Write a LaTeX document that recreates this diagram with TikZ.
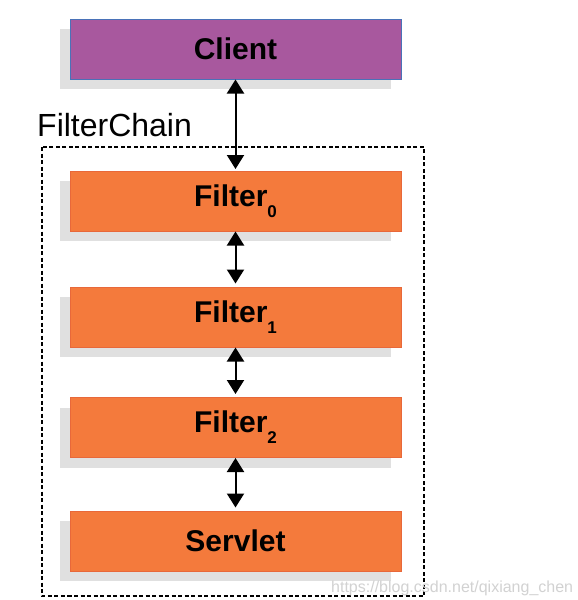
\documentclass[tikz,border=0pt]{standalone}
\usepackage{fontspec}
\setmainfont{Liberation Sans}
\usetikzlibrary{shadows,arrows.meta}
\definecolor{clientFill}{HTML}{A8589E}
\definecolor{clientLine}{HTML}{4A72B8}
\definecolor{filterFill}{HTML}{F47A3C}
\definecolor{filterLine}{HTML}{E8683A}
\definecolor{shadowGray}{HTML}{E0E0E0}
\definecolor{markGray}{HTML}{D2D2D2}
\newcommand{\fsub}[1]{\raisebox{-11pt}{\fontsize{17}{17}\selectfont\bfseries #1}}
\tikzset{
  lab/.style={font=\fontsize{30}{32}\selectfont\bfseries, text=black},
  stageBox/.style={lab, rectangle, minimum width=331pt, minimum height=60pt, inner sep=0pt, line width=1pt,
    drop shadow={shadow xshift=-10pt, shadow yshift=-10pt, fill=shadowGray, opacity=1}},
  clientBox/.style={stageBox, fill=clientFill, draw=clientLine},
  filterBox/.style={stageBox, fill=filterFill, draw=filterLine},
  link/.style={line width=2pt, {Triangle[width=17pt 0,length=14pt 0]}-{Triangle[width=17pt 0,length=14pt 0]}},
  chainLine/.style={line width=1.4pt, dash pattern=on 4pt off 2.5pt}
}
\begin{document}
\begin{tikzpicture}[x=1pt,y=-1pt]
\useasboundingbox[fill=white] (0,0) rectangle (578,600);
% filter chain frame
\draw[chainLine] (42,147) rectangle (424,596);
\node[anchor=base west, inner sep=0pt, font=\fontsize{32}{34}\selectfont] (chainlab) at (37,136.5) {FilterChain};

% stages
\node[clientBox] (client) at (235.5,49) {Client};
\node[filterBox] (filter0) at (235.5,201) {Filter\fsub{0}};
\node[filterBox] (filter1) at (235.5,317) {Filter\fsub{1}};
\node[filterBox] (filter2) at (235.5,427.5) {Filter\fsub{2}};
\node[filterBox] (servlet) at (235.5,541) {Servlet};

% links
\draw[link, shorten >=1.5pt] (client) -- (filter0);
\draw[link, shorten >=3pt] (filter0) -- (filter1);
\draw[link, shorten >=3pt] (filter1) -- (filter2);
\draw[link, shorten >=3pt] (filter2) -- (servlet);

\node[anchor=base west, inner sep=0pt, text=markGray, font=\fontsize{16}{16}\selectfont] (mark) at (331,592) {https://blog.csdn.net/qixiang\_chen};
\end{tikzpicture}
\end{document}
